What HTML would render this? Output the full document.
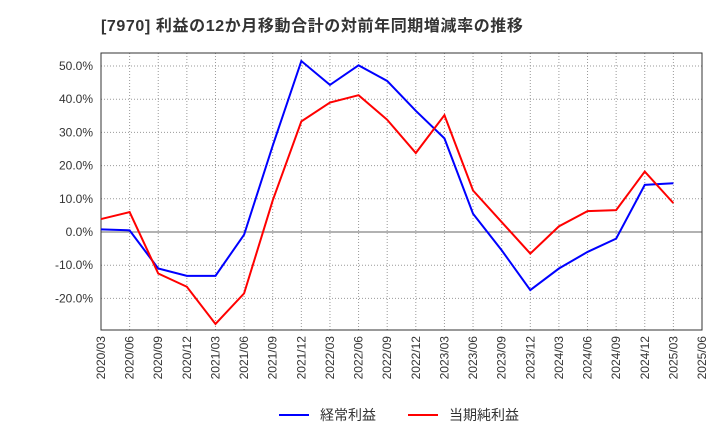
<!DOCTYPE html>
<html><head><meta charset="utf-8"><style>
body{margin:0;background:#fff;font-family:"Liberation Sans","Noto Sans CJK JP",sans-serif}
</style></head><body>
<svg width="720" height="440" xmlns="http://www.w3.org/2000/svg">
<text x="101" y="31" font-size="16" font-weight="bold" fill="#333" letter-spacing="0.6" font-family="Liberation Sans, Noto Sans CJK JP, sans-serif">[7970]  利益の12か月移動合計の対前年同期増減率の推移</text>
<g id="grid"></g><g id="axes"></g><g id="series"></g>
<g font-size="14" fill="#333">
<line x1="279" y1="415" x2="309" y2="415" stroke="#0000ff" stroke-width="2"/>
<text x="320" y="420">経常利益</text>
<line x1="408" y1="415" x2="438" y2="415" stroke="#ff0000" stroke-width="2"/>
<text x="449" y="420">当期純利益</text>
</g>
</svg>
<script>
const categories=["2020/03","2020/06","2020/09","2020/12","2021/03","2021/06","2021/09","2021/12","2022/03","2022/06","2022/09","2022/12","2023/03","2023/06","2023/09","2023/12","2024/03","2024/06","2024/09","2024/12","2025/03","2025/06"];
const ordinaryProfit=[0.8,0.5,-11,-13.2,-13.2,-0.8,26,51.5,44.3,50.2,45.5,36.5,28.2,5.5,-5.5,-17.5,-11,-6,-2,14.2,14.7];
const netProfit=[3.9,6,-12.5,-16.5,-27.7,-18.5,9.5,33.3,39,41.2,33.8,23.8,35.2,12.5,3,-6.5,1.7,6.3,6.6,18.2,8.7];
const yTicks=[50,40,30,20,10,0,-10,-20];
const L=101,R=702,T=53,B=330;
const x=i=>L+(R-L)*i/(categories.length-1);
const y=v=>232-v*3.32;
const NS="http://www.w3.org/2000/svg";
function mk(t,a,p){const e=document.createElementNS(NS,t);for(const k in a)e.setAttribute(k,a[k]);p.appendChild(e);return e;}
const grid=document.getElementById('grid'),axes=document.getElementById('axes'),ser=document.getElementById('series');
categories.forEach((c,i)=>{
 const g=mk('line',{x1:x(i),x2:x(i),y1:T,y2:B,stroke:'#999','stroke-dasharray':'1,2'},grid);
 
 const t=mk('text',{x:0,y:0,'font-size':12,fill:'#333','text-anchor':'end',transform:`translate(${x(i)+4},${B+6}) rotate(-90)`},axes);
 t.textContent=c;
});
yTicks.forEach(v=>{
 const g=mk('line',{x1:L,x2:R,y1:y(v),y2:y(v),stroke:v===0?'#666':'#999','stroke-dasharray':v===0?'':'1,2'},grid);
 
 const t=mk('text',{x:L-8,y:y(v)+4,'font-size':12,fill:'#333','text-anchor':'end'},axes);
 t.textContent=v.toFixed(1)+'%';
});
const fr=mk('rect',{x:L,y:T,width:R-L,height:B-T,fill:'none',stroke:'#333'},axes);

function line(d,col,name){const p=mk('polyline',{points:d.map((v,i)=>x(i)+','+y(v)).join(' '),fill:'none',stroke:col,'stroke-width':2},ser);
 }
line(ordinaryProfit,'#0000ff','ordinary-profit-line');
line(netProfit,'#ff0000','net-profit-line');
</script>
</body></html>
